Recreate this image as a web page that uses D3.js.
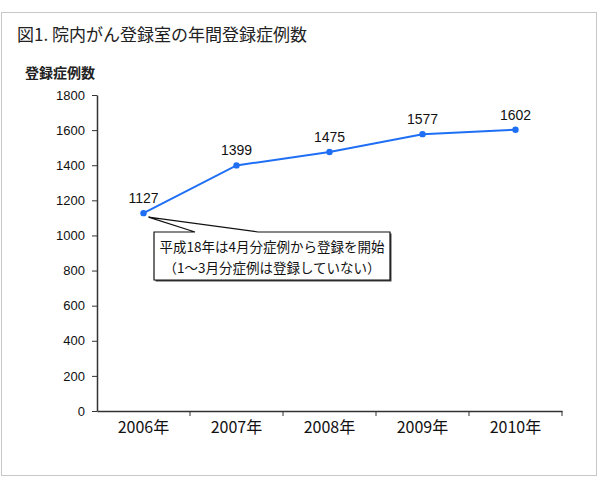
<!DOCTYPE html>
<html>
<head>
<meta charset="utf-8">
<script src="https://cdn.jsdelivr.net/npm/d3@7"></script>
<style>
  body { margin: 0; background: #fff; }
  svg { display: block; }
</style>
</head>
<body>
<div id="chart"></div>
<script>
// chart data
const years = ['2006年', '2007年', '2008年', '2009年', '2010年'];
const cases = [1127, 1399, 1475, 1577, 1602];
const yTicks = [0, 200, 400, 600, 800, 1000, 1200, 1400, 1600, 1800];
const noteLines = ['平成18年は4月分症例から登録を開始', '（1～3月分症例は登録していない）'];

const W = 600, H = 480;
const m = {top: 95, right: 38, bottom: 69, left: 97}; // plot area 97..562, 95..411
const lineColor = '#1f6ff5';
const jpFont = '"Noto Sans CJK JP", sans-serif';
const numFont = '"Liberation Sans", Arial, sans-serif';

let svg = d3.select('#chart').append('svg')
    .attr('width', W)
    .attr('height', H);

// outer frame
svg.append('rect')
    .attr('x', 1.5).attr('y', 12.5)
    .attr('width', 595).attr('height', 463)
    .attr('fill', 'none')
    .attr('stroke', '#c8c8c8');

svg.append('text')
    .attr('x', 17).attr('y', 41)
    .attr('font-family', jpFont)
    .attr('font-size', 17)
    .attr('fill', '#222')
    .text('図1. 院内がん登録室の年間登録症例数');

svg.append('text')
    .attr('x', 25).attr('y', 78)
    .attr('font-family', jpFont)
    .attr('font-size', 14)
    .attr('font-weight', 'bold')
    .attr('fill', '#222')
    .text('登録症例数');

const x = d3.scaleBand()
    .domain(years)
    .range([m.left, W - m.right]);

const y = d3.scaleLinear()
    .domain([0, 1800])
    .range([H - m.bottom, m.top]);

// y axis
let yAxis = svg.append('g')
    .attr('transform', `translate(${m.left},0)`)
    .call(d3.axisLeft(y).tickValues(yTicks).tickFormat(d3.format('d'))
        .tickSize(5).tickPadding(7).tickSizeOuter(0));
yAxis.select('.domain').attr('stroke', '#333').attr('stroke-width', 1.5);
yAxis.selectAll('.tick line').attr('stroke', '#333');
yAxis.selectAll('.tick text')
    .attr('font-family', numFont)
    .attr('font-size', 13)
    .attr('fill', '#111');

// x axis, ticks sit on category boundaries
let xAxis = svg.append('g')
    .attr('transform', `translate(0,${H - m.bottom})`)
    .call(d3.axisBottom(x).tickSize(0).tickPadding(11).tickSizeOuter(0));
xAxis.select('.domain').attr('stroke', '#333').attr('stroke-width', 1.5);
xAxis.selectAll('.tick text')
    .attr('font-family', jpFont)
    .attr('font-size', 16)
    .attr('fill', '#111');
xAxis.selectAll('.boundary')
    .data(years)
    .enter().append('line')
    .attr('x1', d => x(d) + x.bandwidth())
    .attr('x2', d => x(d) + x.bandwidth())
    .attr('y1', 0).attr('y2', 5)
    .attr('stroke', '#333');

const cx = d => x(d) + x.bandwidth() / 2;

// line + points
svg.append('path')
    .datum(cases)
    .attr('fill', 'none')
    .attr('stroke', lineColor)
    .attr('stroke-width', 2)
    .attr('d', d3.line().x((d, i) => cx(years[i])).y(d => y(d)));

svg.selectAll('.pt')
    .data(cases)
    .enter().append('circle')
    .attr('cx', (d, i) => cx(years[i]))
    .attr('cy', d => y(d))
    .attr('r', 3.2)
    .attr('fill', lineColor);

svg.selectAll('.lbl')
    .data(cases)
    .enter().append('text')
    .attr('x', (d, i) => cx(years[i]))
    .attr('y', d => y(d) - 10)
    .attr('text-anchor', 'middle')
    .attr('font-family', numFont)
    .attr('font-size', 14)
    .attr('fill', '#111')
    .text(d => d);

// callout box with pointer to 2006 point
const tipX = cx(years[0]) + 5, tipY = y(cases[0]) + 4;
const box = {x: 154, y: 232, w: 236, h: 48};

svg.append('rect')
    .attr('x', box.x + 1.5).attr('y', box.y + 1.5)
    .attr('width', box.w).attr('height', box.h)
    .attr('fill', '#444');
svg.append('path')
    .attr('d', `M${box.x},${box.y} L${box.x + 41},${box.y} L${tipX},${tipY} L${box.x + 104},${box.y} L${box.x + box.w},${box.y} L${box.x + box.w},${box.y + box.h} L${box.x},${box.y + box.h} Z`)
    .attr('fill', '#fff')
    .attr('stroke', '#111')
    .attr('stroke-width', 1.2)
    .attr('stroke-linejoin', 'miter');

svg.selectAll('.note')
    .data(noteLines)
    .enter().append('text')
    .attr('x', box.x + box.w / 2)
    .attr('y', (d, i) => box.y + 20 + i * 21)
    .attr('text-anchor', 'middle')
    .attr('font-family', jpFont)
    .attr('font-size', 13.5)
    .attr('fill', '#111')
    .text(d => d);
</script>
</body>
</html>
